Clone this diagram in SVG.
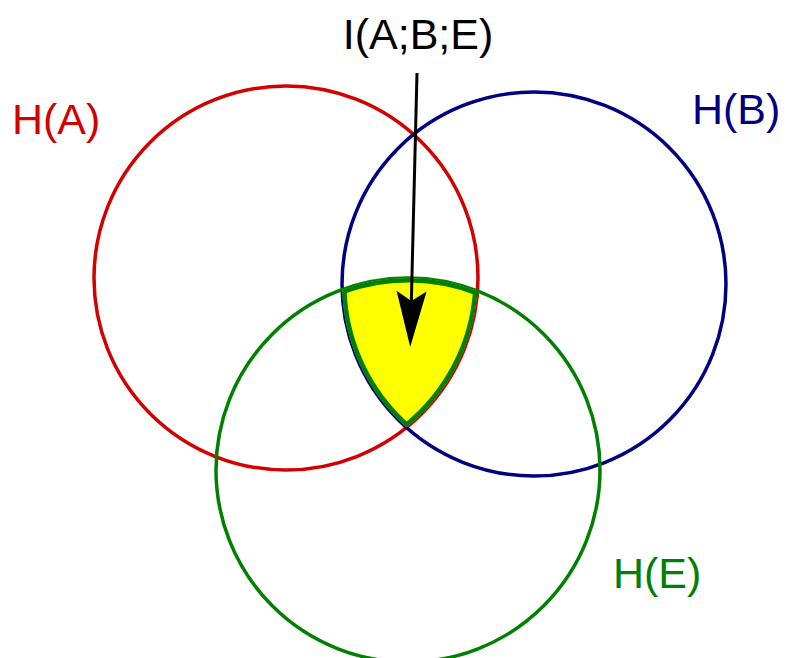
<svg xmlns="http://www.w3.org/2000/svg" width="787" height="658" viewBox="0 0 787 658">
<style>
.c{fill:none;stroke-width:3.5}
.t{font-family:"Liberation Sans",Arial,sans-serif;font-size:43px}
</style>
<defs>
<marker id="ah" markerUnits="userSpaceOnUse" markerWidth="60" markerHeight="32" refX="40" refY="16" orient="auto" overflow="visible">
<path d="M56,16 L0,1 L10,16 L0,31 Z" fill="#000"/>
</marker>
<path id="reg" d="M342.1,289.7 A192,192 0 0 1 477.5,291 A192,192 0 0 1 406.5,427.5 A192,192 0 0 1 342.1,289.7 Z"/>
<clipPath id="regclip"><use href="#reg"/></clipPath>
</defs>
<rect width="787" height="658" fill="#fff"/>
<g id="HA">
<circle class="c" cx="286" cy="278" r="192" stroke="#d40000"/>
<text class="t" x="12" y="134" fill="#d40000">H(A)</text>
</g>
<g id="HB">
<circle class="c" cx="534" cy="284" r="192" stroke="#000080"/>
<text class="t" x="692" y="124" fill="#000080">H(B)</text>
</g>
<g id="HE">
<circle class="c" cx="408" cy="470" r="192" stroke="#008000"/>
<text class="t" x="613" y="588" fill="#008000">H(E)</text>
</g>
<g id="intersection">
<use href="#reg" fill="#ffff00" stroke="#008000" stroke-width="9" clip-path="url(#regclip)"/>
</g>
<g id="label">
<text class="t" x="418" y="49" text-anchor="middle" font-size="44" fill="#000">I(A;B;E)</text>
</g>
<g id="connectors">
<line x1="417" y1="73" x2="410.6" y2="331" stroke="#000" stroke-width="3" marker-end="url(#ah)"/>
</g>
</svg>
